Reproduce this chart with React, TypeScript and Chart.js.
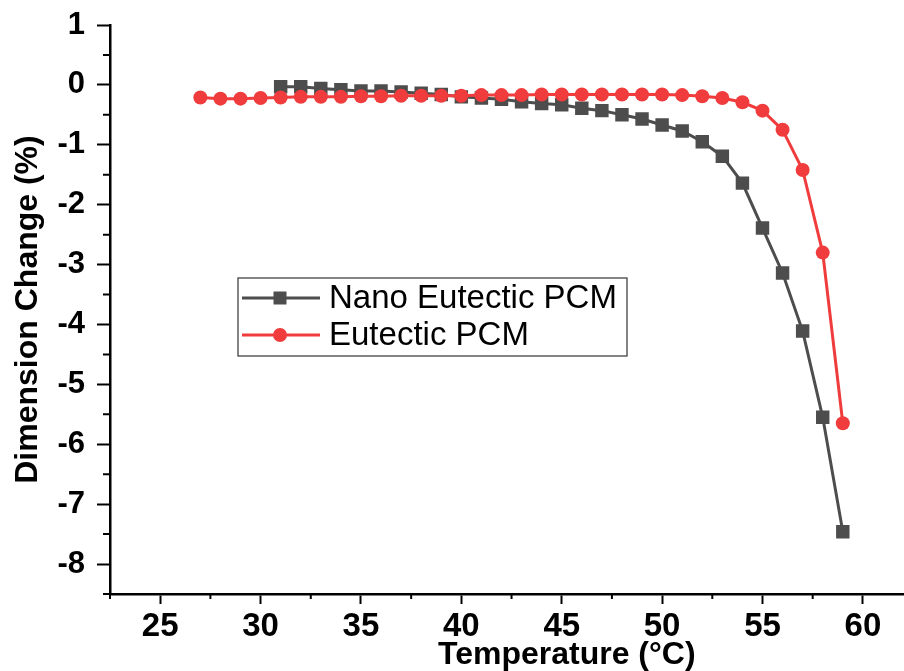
import React, { useEffect, useRef } from "react";
import { Chart, registerables } from "chart.js";

Chart.register(...registerables);

// ---- Data ----
const nanoTemps = [31, 32, 33, 34, 35, 36, 37, 38, 39, 40, 41, 42, 43, 44, 45, 46, 47, 48, 49, 50, 51, 52, 53, 54, 55, 56, 57, 58, 59];
const nanoValues = [-0.03, -0.03, -0.06, -0.08, -0.1, -0.1, -0.12, -0.14, -0.16, -0.2, -0.22, -0.24, -0.28, -0.31, -0.33, -0.39, -0.43, -0.5, -0.57, -0.67, -0.77, -0.95, -1.19, -1.64, -2.39, -3.14, -4.11, -5.55, -7.46];

const eutecticTemps = [27, 28, 29, 30, 31, 32, 33, 34, 35, 36, 37, 38, 39, 40, 41, 42, 43, 44, 45, 46, 47, 48, 49, 50, 51, 52, 53, 54, 55, 56, 57, 58, 59];
const eutecticValues = [-0.21, -0.23, -0.23, -0.22, -0.21, -0.2, -0.2, -0.2, -0.19, -0.19, -0.18, -0.18, -0.18, -0.18, -0.17, -0.17, -0.17, -0.16, -0.16, -0.16, -0.16, -0.16, -0.16, -0.16, -0.17, -0.19, -0.22, -0.29, -0.43, -0.75, -1.42, -2.8, -5.65];

const seriesLabels = ["Nano Eutectic PCM", "Eutectic PCM"];
const xTickValues = [25, 30, 35, 40, 45, 50, 55, 60, 65];
const yTickValues = [-8, -7, -6, -5, -4, -3, -2, -1, 0, 1];
const xMinorTicks = [22.5, 27.5, 32.5, 37.5, 42.5, 47.5, 52.5, 57.5, 62.5, 67.5];
const yMinorTicks = [-8.5, -7.5, -6.5, -5.5, -4.5, -3.5, -2.5, -1.5, -0.5, 0.5];
const xTitle = "Temperature (\u00B0C)";
const yTitle = "Dimension Change (%)";

const NANO_COLOR = "#4d4d4d";
const EUT_COLOR = "#f03c3c";
const FONT = "'Liberation Sans', Arial, Helvetica, sans-serif";

const decorPlugin = {
  id: "decor",
  afterDraw(chart: any) {
    const ctx = chart.ctx;
    const xs = chart.scales.x;
    const ys = chart.scales.y;
    const area = chart.chartArea;
    ctx.save();
    // minor ticks
    ctx.strokeStyle = "#000";
    ctx.lineWidth = 2;
    ctx.beginPath();
    xMinorTicks.forEach((v) => {
      const px = xs.getPixelForValue(v);
      ctx.moveTo(px, area.bottom);
      ctx.lineTo(px, area.bottom + 5);
    });
    yMinorTicks.forEach((v) => {
      const py = ys.getPixelForValue(v);
      ctx.moveTo(area.left, py);
      ctx.lineTo(area.left - 7, py);
    });
    ctx.stroke();

    // legend
    const bx = area.left + 128;
    const by = area.top + 253;
    const bw = 389;
    const bh = 78;
    ctx.fillStyle = "#fff";
    ctx.fillRect(bx, by, bw, bh);
    ctx.strokeStyle = "#333";
    ctx.lineWidth = 1.2;
    ctx.strokeRect(bx, by, bw, bh);
    const rows = [
      { label: seriesLabels[0], color: NANO_COLOR, shape: "rect" },
      { label: seriesLabels[1], color: EUT_COLOR, shape: "circle" },
    ];
    rows.forEach((r, i) => {
      const cy = by + 20 + i * 37;
      ctx.strokeStyle = r.color;
      ctx.lineWidth = 3;
      ctx.beginPath();
      ctx.moveTo(bx + 4, cy);
      ctx.lineTo(bx + 82, cy);
      ctx.stroke();
      ctx.fillStyle = r.color;
      const mx = bx + 42;
      if (r.shape === "rect") {
        ctx.fillRect(mx - 6.5, cy - 6.5, 13, 13);
      } else {
        ctx.beginPath();
        ctx.arc(mx, cy, 7, 0, Math.PI * 2);
        ctx.fill();
      }
      ctx.fillStyle = "#000";
      ctx.font = `33px ${FONT}`;
      ctx.textBaseline = "middle";
      ctx.textAlign = "left";
      ctx.fillText(r.label, bx + 91, cy + 1);
    });
    ctx.restore();
  },
};

export default function App() {
  const ref = useRef<HTMLCanvasElement>(null);
  useEffect(() => {
    document.body.style.margin = "0";
    const canvas = ref.current!;
    const chart = new Chart(canvas, {
      type: "line",
      data: {
        datasets: [
          {
            label: seriesLabels[0],
            data: nanoTemps.map((t, i) => ({ x: t, y: nanoValues[i] })),
            borderColor: NANO_COLOR,
            backgroundColor: NANO_COLOR,
            borderWidth: 3,
            pointStyle: "rect",
            pointRadius: 9.5,
            pointBorderWidth: 0,
            tension: 0,
            order: 2,
          },
          {
            label: seriesLabels[1],
            data: eutecticTemps.map((t, i) => ({ x: t, y: eutecticValues[i] })),
            borderColor: EUT_COLOR,
            backgroundColor: EUT_COLOR,
            borderWidth: 3,
            pointStyle: "circle",
            pointRadius: 7,
            pointBorderWidth: 0,
            tension: 0,
            order: 1,
          },
        ],
      },
      options: {
        animation: false,
        responsive: false,
        maintainAspectRatio: false,
        layout: { padding: { top: 25, left: 0, right: 0, bottom: 0 } },
        plugins: { legend: { display: false }, tooltip: { enabled: false } },
        scales: {
          x: {
            type: "linear",
            min: 22.5,
            max: 68,
            afterBuildTicks: (s: any) => {
              s.ticks = xTickValues.map((v) => ({ value: v }));
            },
            afterFit: (s: any) => {
              s.height = 77;
            },
            grid: { display: true, drawOnChartArea: false, drawTicks: true, tickLength: 10, tickWidth: 2, tickColor: "#000" },
            border: { display: true, color: "#000", width: 2.5 },
            ticks: {
              color: "#000",
              padding: 3,
              font: { family: FONT, size: 33, weight: "bold" },
              maxRotation: 0,
              autoSkip: false,
            },
            title: {
              display: true,
              text: xTitle,
              color: "#000",
              font: { family: FONT, size: 32, weight: "bold" },
              padding: { top: 0, bottom: -3 },
            },
          },
          y: {
            type: "linear",
            min: -8.5,
            max: 1,
            afterBuildTicks: (s: any) => {
              s.ticks = yTickValues.map((v) => ({ value: v }));
            },
            afterFit: (s: any) => {
              s.width = 110;
              s.paddingTop = 0;
              s.paddingBottom = 0;
            },
            grid: { display: true, drawOnChartArea: false, drawTicks: true, tickLength: 13, tickWidth: 2, tickColor: "#000" },
            border: { display: true, color: "#000", width: 2.5 },
            ticks: {
              color: "#000",
              padding: 12,
              font: { family: FONT, size: 31, weight: "bold" },
              autoSkip: false,
            },
            title: {
              display: true,
              text: yTitle,
              color: "#000",
              font: { family: FONT, size: 32, weight: "bold" },
              padding: { top: 9, bottom: 0 },
            },
          },
        },
      },
      plugins: [decorPlugin],
    } as any);
    return () => chart.destroy();
  }, []);
  return (
    <div style={{ width: 904, height: 671, overflow: "hidden", position: "relative", background: "#fff" }}>
      <canvas ref={ref} width={1033} height={671} style={{ display: "block" }} />
    </div>
  );
}
